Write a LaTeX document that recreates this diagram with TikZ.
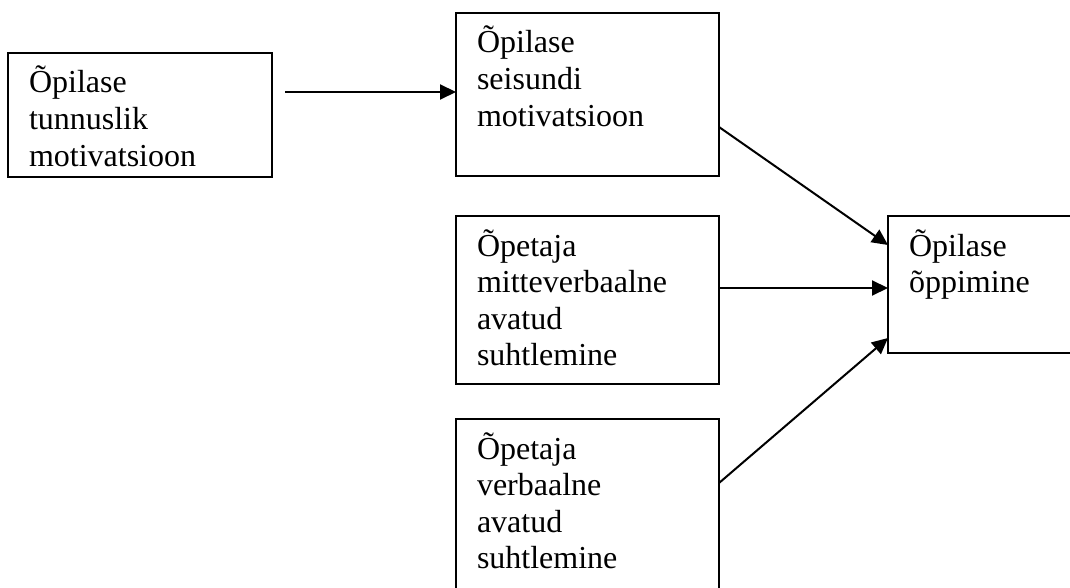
\documentclass[tikz,border=0pt]{standalone}
\usepackage{fontspec}
\setmainfont{Liberation Serif}
\usetikzlibrary{arrows.meta,positioning,calc}
\newcommand{\topstrut}{\rule{0pt}{40pt}}
\newcommand{\boxtext}[3]{\parbox[t][#2][t]{#1}{\raggedright\topstrut #3}}
\tikzset{
  box/.style={draw, rectangle, line width=2pt, anchor=north west, inner xsep=21pt, inner ysep=0pt, outer sep=0pt, font=\fontsize{32}{36.6}\selectfont},
  arr/.style={-{Triangle[length=16pt,width=15pt]}, line width=2pt},
}
\begin{document}
\begin{tikzpicture}[x=1pt,y=-1pt]
\useasboundingbox (0,0) rectangle (1070,588);
\clip (0,0) rectangle (1070,588);
\node[box] (a) at (8,53) {\boxtext{222pt}{124pt}{Õpilase\\tunnuslik\\motivatsioon}};
\node[box] (b) at (456,13) {\boxtext{221pt}{163pt}{Õpilase\\seisundi\\motivatsioon}};
\node[box] (c) at (456,216) {\boxtext{221pt}{168pt}{Õpetaja\\mitteverbaalne\\avatud\\suhtlemine}};
\node[box] (d) at (456,419) {\boxtext{221pt}{180pt}{Õpetaja\\verbaalne\\avatud\\suhtlemine}};
\node[box] (e) at (888,216) {\boxtext{160pt}{137pt}{Õpilase\\õppimine}};
\coordinate (a1) at (285,92);
\draw[arr] (a1) -- (a1 -| b.west);
\draw[arr] ($(b.north east)+(0,114)$) -- ($(e.north west)+(0,29)$);
\draw[arr] ($(c.north east)+(0,72)$) -- ($(e.north west)+(0,72)$);
\draw[arr] ($(d.north east)+(0,64)$) -- ($(e.north west)+(0,122)$);
\end{tikzpicture}
\end{document}
